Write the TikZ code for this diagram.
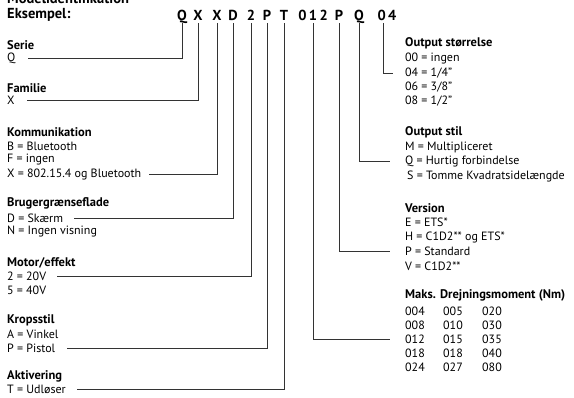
\documentclass[tikz,border=0pt]{standalone}
\usepackage{fontspec}
\setmainfont{PT Sans}
\usetikzlibrary{positioning}

\begin{document}
\begin{tikzpicture}[
  x=1pt, y=-1pt,
  hd/.style={anchor=west, inner sep=0pt, font=\fontsize{12.5}{14}\bfseries},
  val/.style={anchor=west, inner sep=0pt, font=\fontsize{12}{14}\selectfont},
  code/.style={inner sep=0pt, font=\fontsize{14.5}{16}\bfseries, text height=10pt, text depth=0pt},
  lnk/.style={draw=black!80, line width=0.7pt}
]
  \useasboundingbox (0,0) rectangle (574,397);

  % title and example code
  \node[anchor=base west, inner sep=0pt, font=\fontsize{14.5}{16}\bfseries] (title) at (7,3) {Modelidentifikation};
  \node[hd, font=\fontsize{14.5}{16}\bfseries] (eks) at (7,15) {Eksempel:};
  \node[code] (cQ) at (182,15) {Q};
  \node[code] (cX) at (198,15) {X};
  \node[code] (cK) at (217,15) {X};
  \node[code] (cD) at (233,15) {D};
  \node[code] (cM) at (251,15) {2};
  \node[code] (cP) at (267,15) {P};
  \node[code] (cT) at (284,15) {T};
  \node[code] (cN) at (313,15) {0\,1\,2};
  \node[code] (cV) at (339,15) {P};
  \node[code] (cS) at (359,15) {Q};
  \node[code] (cO) at (387,15) {0\,4};

  % left column
  \node[hd] (serie) at (7,45) {Serie};
  \node[val] (serieQ) at (7,58) {Q};

  \node[hd] (fam) at (7,88) {Familie};
  \node[val] (famX) at (7,100) {X};

  \node[hd] (komm) at (7,132) {Kommunikation};
  \node[val] (kommB) at (7,146) {B = Bluetooth};
  \node[val] (kommF) at (7,160) {F = ingen};
  \node[val] (kommX) at (7,174) {X = 802.15.4 og Bluetooth};

  \node[hd] (bruger) at (7,203) {Brugergrænseflade};
  \node[val] (brugerD) at (7,218) {D = Skærm};
  \node[val] (brugerN) at (7,232) {N = Ingen visning};

  \node[hd] (motor) at (7,263) {Motor/effekt};
  \node[val] (motor2) at (7,276) {2 = 20V};
  \node[val] (motor5) at (7,290) {5 = 40V};

  \node[hd] (krop) at (7,320) {Kropsstil};
  \node[val] (kropA) at (7,334) {A = Vinkel};
  \node[val] (kropP) at (7,348) {P = Pistol};

  \node[hd] (akt) at (7,376) {Aktivering};
  \node[val] (aktT) at (7,389) {T = Udløser};

  % right column
  \node[hd] (osz) at (405,43) {Output størrelse};
  \node[val] (osz00) at (405,58) {00 = ingen};
  \node[val] (osz04) at (405,73) {04 = 1/4"};
  \node[val] (osz06) at (405,87) {06 = 3/8"};
  \node[val] (osz08) at (405,101) {08 = 1/2"};

  \node[hd] (ost) at (405,132) {Output stil};
  \node[val] (ostM) at (405,147) {M = Multipliceret};
  \node[val] (ostQ) at (405,161) {Q = Hurtig forbindelse};
  \node[val] (ostS) at (407,176) {S = Tomme Kvadratsidelængde};

  \node[hd] (ver) at (405,208) {Version};
  \node[val] (verE) at (405,222) {E = ETS*};
  \node[val] (verH) at (405,237) {H = C1D2** og ETS*};
  \node[val] (verP) at (405,251) {P = Standard};
  \node[val] (verV) at (405,266) {V = C1D2**};

  \node[hd] (maks) at (405,295) {Maks. Drejningsmoment (Nm)};
  \node[val] (maks1) at (405,311) {\makebox[38pt][l]{004}\makebox[39pt][l]{005}020};
  \node[val] (maks2) at (405,325) {\makebox[38pt][l]{008}\makebox[39pt][l]{010}030};
  \node[val] (maks3) at (405,339) {\makebox[38pt][l]{012}\makebox[39pt][l]{015}035};
  \node[val] (maks4) at (405,353) {\makebox[38pt][l]{018}\makebox[39pt][l]{018}040};
  \node[val] (maks5) at (405,367) {\makebox[38pt][l]{024}\makebox[39pt][l]{027}080};

  % connectors
  \draw[lnk] ([yshift=-3pt]cQ.south) |- ([xshift=12pt]serieQ.east);
  \draw[lnk] ([yshift=-3pt]cX.south) |- ([xshift=12pt]famX.east);
  \draw[lnk] ([yshift=-3pt]cK.south) |- ([xshift=8pt]kommX.east);
  \draw[lnk] ([yshift=-3pt]cD.south) |- ([xshift=11pt]brugerD.east);
  \draw[lnk] ([yshift=-3pt]cM.south) |- ([xshift=11pt]motor2.east);
  \draw[lnk] ([yshift=-3pt]cP.south) |- ([xshift=12pt]kropP.east);
  \draw[lnk] ([yshift=-3pt]cT.south) |- ([xshift=11pt]aktT.east);
  \draw[lnk] ([yshift=-3pt]cN.south) |- ([xshift=-15pt]maks3.west);
  \draw[lnk] ([yshift=-3pt]cV.south) |- ([xshift=-15pt]verP.west);
  \draw[lnk] ([yshift=-3pt]cS.south) |- ([xshift=-15pt]ostQ.west);
  \draw[lnk] ([xshift=-4pt, yshift=-3pt]cO.south) |- ([xshift=-12pt]osz04.west);
\end{tikzpicture}
\end{document}
